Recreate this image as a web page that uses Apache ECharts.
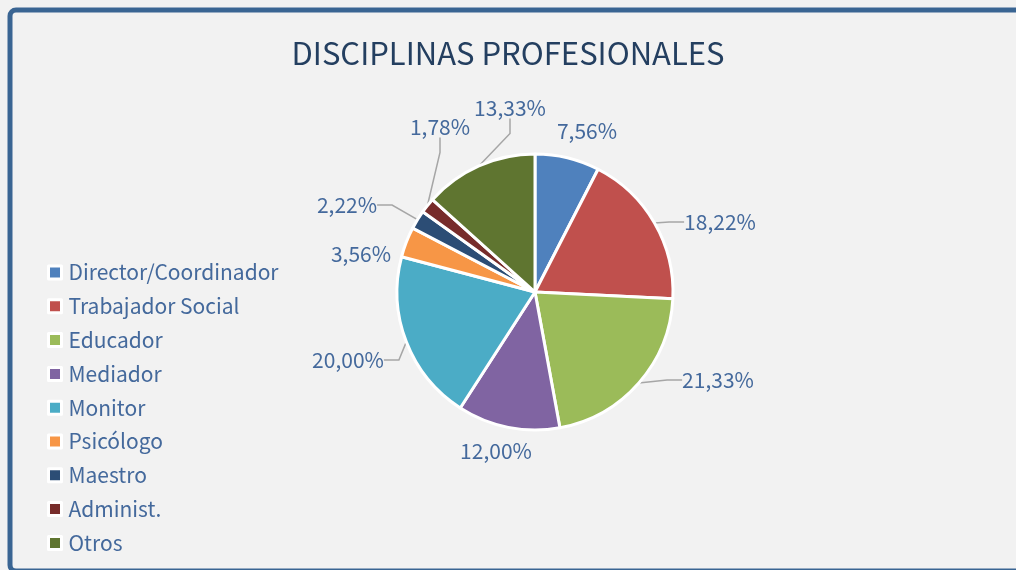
<!DOCTYPE html>
<html>
<head>
<meta charset="utf-8">
<script src="https://cdn.jsdelivr.net/npm/echarts@6/dist/echarts.min.js"></script>
<style>
  html, body { margin: 0; padding: 0; background: #f2f2f2; }
  #chart { width: 1016px; height: 570px; }
</style>
</head>
<body>
<div id="chart"></div>
<script>
// datos: número de profesionales por disciplina (total 225)
const categories = ['Director/Coordinador', 'Trabajador Social', 'Educador', 'Mediador', 'Monitor', 'Psicólogo', 'Maestro', 'Administ.', 'Otros'];
const counts = [17, 41, 48, 27, 45, 8, 5, 4, 30];
const colors = ['#4f81bd', '#c0504d', '#9bbb59', '#8064a2', '#4bacc6', '#f79646', '#2c4d75', '#772c2a', '#5f7530'];

// posición (centro) de cada etiqueta, como en el original de Excel
const labelPos = [[587, 131], [720, 222], [718, 380], [496, 451], [348, 360], [361, 254], [347, 205], [440, 127], [510, 108]];
// etiquetas pegadas al sector, sin línea guía
const noLine = [0, 3, 5];

const font = 'Noto Sans CJK SC';
const total = counts.reduce((a, b) => a + b, 0);

const chart = echarts.init(document.getElementById('chart'));
let option = {
  backgroundColor: '#f2f2f2',
  color: colors,
  title: {
    text: 'DISCIPLINAS PROFESIONALES',
    left: 'center',
    top: 33,
    textStyle: { fontFamily: font, fontSize: 31, fontWeight: 'normal', color: '#243f60' }
  },
  legend: {
    orient: 'vertical',
    left: 47,
    top: 262,
    padding: 0,
    itemWidth: 13,
    itemHeight: 13,
    itemGap: 12.8,
    icon: 'rect',
    itemStyle: { borderColor: '#ffffff', borderWidth: 3 },
    textStyle: { fontFamily: font, fontSize: 21, color: '#44699c', padding: [0, 0, 0, 2] },
    data: categories
  },
  // marco azul del gráfico
  graphic: [{
    type: 'rect',
    shape: { x: 10, y: 10, width: 1040, height: 561, r: 6 },
    style: { fill: 'none', stroke: '#3a6593', lineWidth: 5 },
    silent: true
  }],
  series: [{
    type: 'pie',
    center: [535, 292],
    radius: 138,
    startAngle: 90,
    clockwise: true,
    itemStyle: { borderColor: '#ffffff', borderWidth: 3 },
    label: {
      show: true,
      position: 'outside',
      fontFamily: font,
      fontSize: 21,
      color: '#44699c',
      formatter: p => (p.value / total * 100).toFixed(2).replace('.', ',') + '%'
    },
    labelLine: { show: true, length: 10, length2: 15, lineStyle: { color: '#a6a6a6', width: 1.5 } },
    labelLayout: p => ({
      x: labelPos[p.dataIndex][0],
      y: labelPos[p.dataIndex][1],
      align: 'center',
      verticalAlign: 'middle'
    }),
    emphasis: { disabled: true },
    data: categories.map((c, i) => ({
      name: c,
      value: counts[i],
      labelLine: { show: noLine.indexOf(i) < 0 }
    }))
  }]
};
chart.setOption(option);
</script>
</body>
</html>
